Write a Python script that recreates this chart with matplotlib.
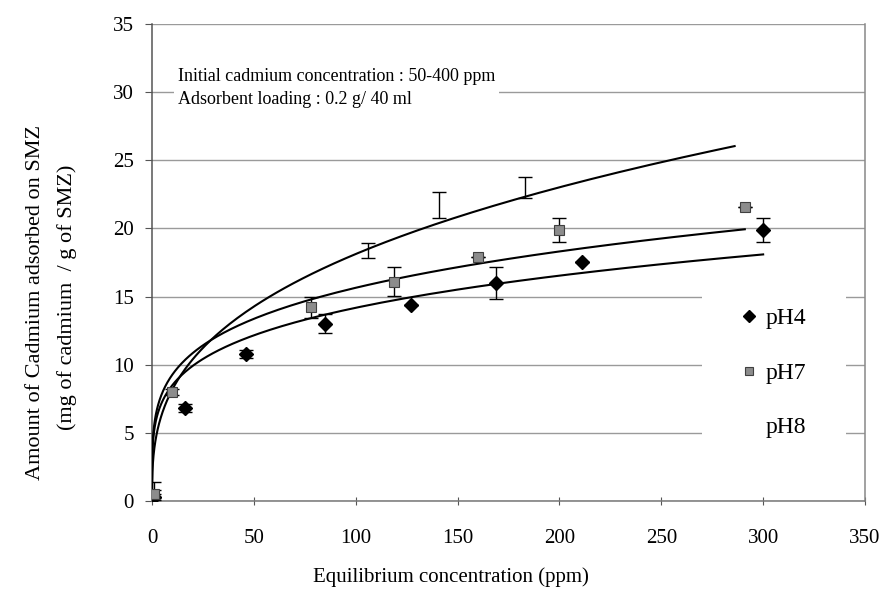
import numpy as np
import matplotlib.pyplot as plt

plt.rcParams['font.family'] = ['Liberation Serif', 'DejaVu Serif']

# measured adsorption points, (ppm, mg/g)
ce_ph4 = [1, 16, 46, 85, 127, 169, 211, 300]
q_ph4 = [0.3, 6.8, 10.8, 13.0, 14.4, 16.0, 17.5, 19.9]
err_ph4 = [0.2, 0.3, 0.3, 0.7, 0, 1.2, 0, 0.9]

ce_ph7 = [1, 10, 78, 119, 160, 200, 291]
q_ph7 = [0.5, 8.0, 14.2, 16.1, 17.9, 19.9, 21.6]
err_ph7 = [0.3, 0.2, 0.8, 1.05, 0, 0.9, 0]

ce_ph8 = [1, 106, 141, 183]
q_ph8 = [0.6, 18.35, 21.75, 23.0]
err_ph8 = [0.8, 0.55, 0.95, 0.8]

# Freundlich fits q = K * Ce^n and the range each one is drawn over
fit_k = {'pH4': 5.10, 'pH7': 5.50, 'pH8': 3.70}
fit_n = {'pH4': 0.222, 'pH7': 0.227, 'pH8': 0.345}
fit_end = {'pH4': 300, 'pH7': 291, 'pH8': 286}

fig = plt.figure(figsize=(8.88, 5.94), dpi=100)
ax = fig.add_axes([0.1712, 0.1566, 0.8029, 0.8030])

for key in ['pH8', 'pH7', 'pH4']:
    ce = np.concatenate([[0], np.geomspace(1e-3, fit_end[key], 400)])
    ax.plot(ce, fit_k[key] * ce ** fit_n[key], color='black', lw=1.5, zorder=3)

ax.errorbar(ce_ph4, q_ph4, yerr=err_ph4, fmt='none', ecolor='black',
            elinewidth=1, capsize=5, zorder=4)
ax.errorbar(ce_ph7, q_ph7, yerr=err_ph7, fmt='none', ecolor='black',
            elinewidth=1, capsize=5, zorder=4)
ax.errorbar(ce_ph8, q_ph8, yerr=err_ph8, fmt='none', ecolor='black',
            elinewidth=1, capsize=5, zorder=4)

ax.plot(ce_ph4, q_ph4, ls='none', marker='D', ms=7.5, color='black',
        label='pH4', zorder=5)
ax.plot(ce_ph7, q_ph7, ls='none', marker='s', ms=6.5, mfc='#8c8c8c',
        mec='#404040', mew=0.8, label='pH7', zorder=5)
ax.plot(ce_ph8, q_ph8, ls='none', marker='none', label='pH8')

ax.set_xlim(0, 350)
ax.set_ylim(0, 35)
ax.set_xticks(range(0, 351, 50))
ax.set_yticks(range(0, 36, 5))
ax.tick_params(axis='both', labelsize=15, colors='black')
ax.tick_params(axis='x', direction='inout', length=6, pad=17, color='#555555')
ax.tick_params(axis='y', direction='out', length=5, pad=8, color='#555555')
ax.yaxis.grid(True, color='#9a9a9a', lw=1)
ax.set_axisbelow(True)

ax.spines['top'].set_visible(False)
ax.spines['left'].set_color('#555555')
ax.spines['bottom'].set_color('#777777')
ax.spines['right'].set_color('#888888')
for sp in ax.spines.values():
    sp.set_linewidth(1.1)

ax.text(0.036, 0.907,
        'Initial cadmium concentration : 50-400 ppm\nAdsorbent loading : 0.2 g/ 40 ml',
        transform=ax.transAxes, fontsize=13, va='top', ha='left',
        linespacing=1.42,
        bbox=dict(facecolor='white', edgecolor='none', pad=3))

leg = ax.legend(loc='center left', bbox_to_anchor=(0.771, 0.268), fontsize=17,
                frameon=True, facecolor='white', edgecolor='none',
                framealpha=1, fancybox=False, handlelength=0.6,
                handletextpad=0.4, labelspacing=1.4, borderpad=1.7,
                borderaxespad=0, markerscale=0.8)
leg.set_zorder(6)

fig.text(0.508, 0.012, 'Equilibrium concentration (ppm)', ha='center',
         va='bottom', fontsize=15)
fig.text(0.040, 0.49, 'Amount of Cadmium adsorbed on SMZ', rotation=90,
         ha='center', va='center', fontsize=16)
fig.text(0.075, 0.50, '(mg of cadmium  / g of SMZ)', rotation=90,
         ha='center', va='center', fontsize=16)

fig.savefig('out.png', dpi=100)
